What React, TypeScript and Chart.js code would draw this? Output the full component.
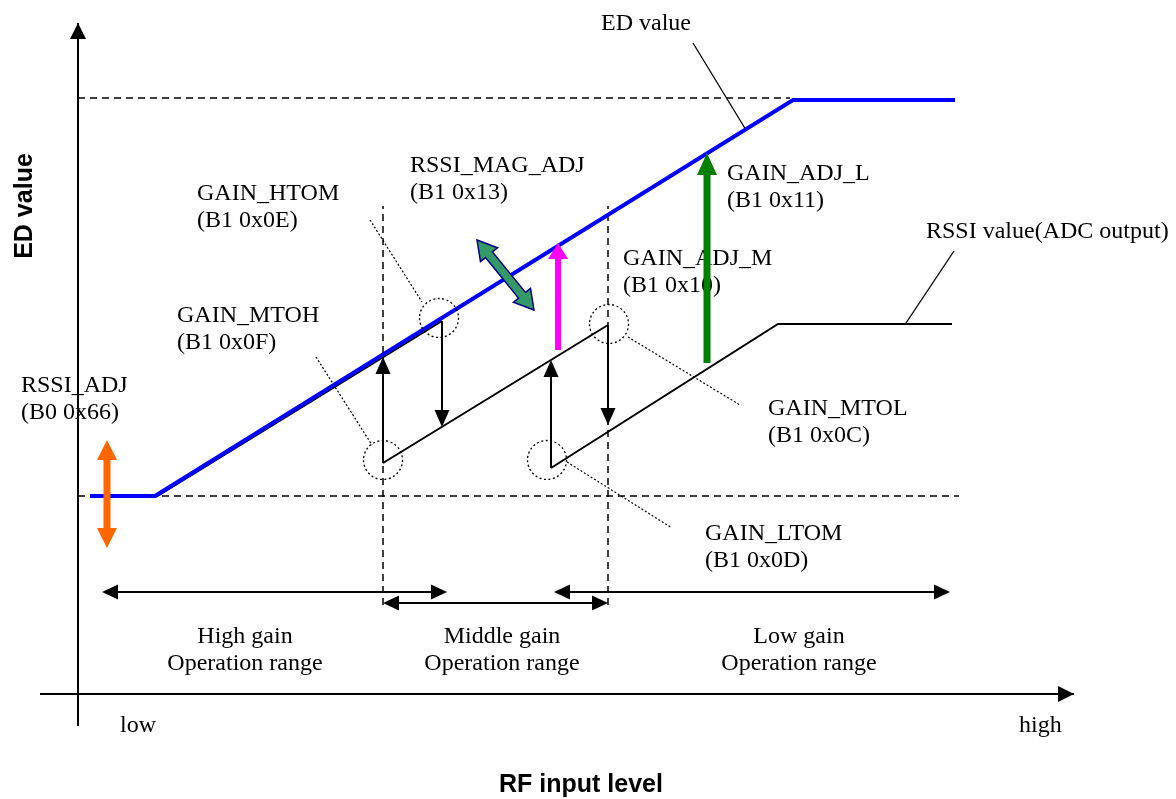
import React, { useEffect, useRef } from 'react';
import { Chart, registerables } from 'chart.js';
Chart.register(...registerables);

type P = [number, number];

// Diagram units: origin at the axes crossing, x = RF input level (right), y = value (up)
const X_MIN = -78, X_MAX = 1098, Y_MIN = -105, Y_MAX = 694;

// ED value curve (blue)
const edValue: P[] = [[12, 198], [77, 198], [715, 594], [877, 594]];
// RSSI value (ADC output) – three gain segments
const rssiHigh: P[] = [[78, 197], [364, 373]];
const rssiMiddle: P[] = [[305, 231], [530, 369]];
const rssiLow: P[] = [[473, 226], [700, 370], [874, 370]];

// reference dashed lines
const edMaxLine: P[] = [[0, 596], [712, 596]];
const rssiAdjLine: P[] = [[0, 198], [881, 198]];
const highMidBoundary: P[] = [[305, 89], [305, 488]];
const midLowBoundary: P[] = [[530, 89], [530, 488]];

// leader lines
const edLeader: P[] = [[615, 651], [668, 564]];
const rssiLeader: P[] = [[876, 443], [828, 371]];
const htomLeader: P[] = [[292, 474], [344, 392]];
const mtohLeader: P[] = [[238, 337], [294, 249]];
const mtolLeader: P[] = [[550, 357], [662, 289]];
const ltomLeader: P[] = [[489, 232], [594, 166]];

// axes
const yAxisLine: P[] = [[0, -32], [0, 671]];
const xAxisLine: P[] = [[-38, 0], [996, 0]];

// switching points (dotted circles)
const switchCircles: P[] = [[361, 376], [305, 234], [531, 370], [469, 234]];
// gain switching arrows: [from, to]
const switchArrows: P[][] = [
  [[305, 231], [305, 337]],
  [[364, 373], [364, 267]],
  [[473, 226], [473, 334]],
  [[530, 369], [530, 269]],
];
// operation range arrows (double headed)
const rangeArrows: P[][] = [
  [[24, 102], [369, 102]],
  [[305, 91], [530, 91]],
  [[476, 102], [872, 102]],
];
const rangeNames = ['High gain', 'Middle gain', 'Low gain'];
const rangeCenters = [167, 424, 721];

// adjustment arrows
const rssiAdjArrow: P[] = [[29, 146], [29, 254]];
const magAdjArrow: P[] = [[480, 344], [480, 451]];
const adjLArrow: P[] = [[629, 331], [629, 541]];
const magDiagArrow: P[] = [[399, 454], [456, 384]];

// annotation labels
const labelTexts: string[][] = [
  ['ED value'],
  ['GAIN_HTOM', '(B1 0x0E)'],
  ['RSSI_MAG_ADJ', '(B1 0x13)'],
  ['GAIN_ADJ_L', '(B1 0x11)'],
  ['GAIN_ADJ_M', '(B1 0x10)'],
  ['RSSI value(ADC output)'],
  ['GAIN_MTOH', '(B1 0x0F)'],
  ['RSSI_ADJ', '(B0 0x66)'],
  ['GAIN_MTOL', '(B1 0x0C)'],
  ['GAIN_LTOM', '(B1 0x0D)'],
];
const labelAnchors: P[] = [
  [523, 664], [119, 494], [332, 522], [649, 514], [545, 429],
  [848, 456], [99, 372], [-57, 302], [690, 279], [627, 154],
];
const axisEnds = ['low', 'high'];
const axisEndAnchors: P[] = [[42, -38], [941, -38]];
const xTitle = 'RF input level';
const yTitle = 'ED value';

const SERIF = '24px "Liberation Serif", "Times New Roman", serif';
const SANS_BOLD = 'bold 25px "Liberation Sans", Arial, sans-serif';
const LINE_H = 27;

function head(ctx: CanvasRenderingContext2D, tip: number[], from: number[], len: number, half: number) {
  const dx = tip[0] - from[0], dy = tip[1] - from[1];
  const d = Math.hypot(dx, dy) || 1;
  const ux = dx / d, uy = dy / d;
  const bx = tip[0] - ux * len, by = tip[1] - uy * len;
  ctx.beginPath();
  ctx.moveTo(tip[0], tip[1]);
  ctx.lineTo(bx - uy * half, by + ux * half);
  ctx.lineTo(bx + uy * half, by - ux * half);
  ctx.closePath();
  ctx.fill();
}

function lineArrow(ctx: CanvasRenderingContext2D, a: number[], b: number[], both: boolean, len: number, half: number, width: number) {
  const dx = b[0] - a[0], dy = b[1] - a[1];
  const d = Math.hypot(dx, dy) || 1;
  const ux = dx / d, uy = dy / d;
  const sa = both ? [a[0] + ux * (len - 2), a[1] + uy * (len - 2)] : a;
  const sb = [b[0] - ux * (len - 2), b[1] - uy * (len - 2)];
  ctx.save();
  ctx.strokeStyle = '#000';
  ctx.fillStyle = '#000';
  ctx.lineWidth = width;
  ctx.setLineDash([]);
  ctx.beginPath();
  ctx.moveTo(sa[0], sa[1]);
  ctx.lineTo(sb[0], sb[1]);
  ctx.stroke();
  head(ctx, b, a, len, half);
  if (both) head(ctx, a, b, len, half);
  ctx.restore();
}

function blockArrow(ctx: CanvasRenderingContext2D, a: number[], b: number[], both: boolean, w: number, len: number, half: number, fill: string, stroke?: string) {
  const dx = b[0] - a[0], dy = b[1] - a[1];
  const d = Math.hypot(dx, dy) || 1;
  const ux = dx / d, uy = dy / d;
  const nx = -uy, ny = ux;
  const pt = (base: number[], along: number, side: number) => [base[0] + ux * along + nx * side, base[1] + uy * along + ny * side];
  const pts: number[][] = [];
  if (both) {
    pts.push(a, pt(a, len, half), pt(a, len, w / 2), pt(b, -len, w / 2), pt(b, -len, half), b,
      pt(b, -len, -half), pt(b, -len, -w / 2), pt(a, len, -w / 2), pt(a, len, -half));
  } else {
    pts.push(pt(a, 0, w / 2), pt(b, -len, w / 2), pt(b, -len, half), b, pt(b, -len, -half), pt(b, -len, -w / 2), pt(a, 0, -w / 2));
  }
  ctx.save();
  ctx.setLineDash([]);
  ctx.beginPath();
  pts.forEach((p, i) => (i === 0 ? ctx.moveTo(p[0], p[1]) : ctx.lineTo(p[0], p[1])));
  ctx.closePath();
  ctx.fillStyle = fill;
  ctx.fill();
  if (stroke) {
    ctx.strokeStyle = stroke;
    ctx.lineWidth = 1.5;
    ctx.lineJoin = 'miter';
    ctx.stroke();
  }
  ctx.restore();
}

const diagramPlugin = {
  id: 'diagram',
  beforeDatasetsDraw(chart: any) {
    const ctx: CanvasRenderingContext2D = chart.ctx;
    const xs = chart.scales.x, ys = chart.scales.y;
    const px = (p: P) => [xs.getPixelForValue(p[0]), ys.getPixelForValue(p[1])];
    ctx.save();
    ctx.fillStyle = '#000';
    ctx.font = SERIF;
    ctx.textBaseline = 'alphabetic';
    ctx.textAlign = 'left';
    labelTexts.forEach((lines, i) => {
      const [x, y] = px(labelAnchors[i]);
      lines.forEach((t, j) => ctx.fillText(t, x, y + j * LINE_H));
    });
    axisEnds.forEach((t, i) => {
      const [x, y] = px(axisEndAnchors[i]);
      ctx.fillText(t, x, y);
    });
    ctx.textAlign = 'center';
    rangeNames.forEach((t, i) => {
      const x = xs.getPixelForValue(rangeCenters[i]);
      const y = ys.getPixelForValue(51);
      ctx.fillText(t, x, y);
      ctx.fillText('Operation range', x, y + LINE_H);
    });
    ctx.font = SANS_BOLD;
    const [tx, ty] = px([503, -98]);
    ctx.fillText(xTitle, tx, ty);
    const [vx, vy] = px([-46, 488]);
    ctx.translate(vx, vy);
    ctx.rotate(-Math.PI / 2);
    ctx.fillText(yTitle, 0, 0);
    ctx.restore();
  },
  afterDatasetsDraw(chart: any) {
    const ctx: CanvasRenderingContext2D = chart.ctx;
    const xs = chart.scales.x, ys = chart.scales.y;
    const px = (p: P) => [xs.getPixelForValue(p[0]), ys.getPixelForValue(p[1])];
    ctx.save();
    ctx.fillStyle = '#000';
    // axis arrowheads
    head(ctx, px(yAxisLine[1]), px(yAxisLine[0]), 16, 8);
    head(ctx, px(xAxisLine[1]), px(xAxisLine[0]), 16, 8);
    // dotted circles
    ctx.strokeStyle = '#000';
    ctx.lineWidth = 1.3;
    ctx.setLineDash([2, 2.5]);
    switchCircles.forEach((c) => {
      const [x, y] = px(c);
      ctx.beginPath();
      ctx.arc(x, y, 19.5, 0, Math.PI * 2);
      ctx.stroke();
    });
    ctx.setLineDash([]);
    ctx.restore();
    switchArrows.forEach(([a, b]) => lineArrow(ctx, px(a), px(b), false, 17, 7.5, 2));
    rangeArrows.forEach(([a, b]) => lineArrow(ctx, px(a), px(b), true, 16, 7.5, 2));
    blockArrow(ctx, px(rssiAdjArrow[0]), px(rssiAdjArrow[1]), true, 7, 20, 10, '#FF6600');
    blockArrow(ctx, px(magAdjArrow[0]), px(magAdjArrow[1]), false, 6, 16, 10, '#FF00FF');
    blockArrow(ctx, px(adjLArrow[0]), px(adjLArrow[1]), false, 7, 22, 10, '#008000');
    blockArrow(ctx, px(magDiagArrow[0]), px(magDiagArrow[1]), true, 9, 19, 11, '#339966', '#000080');
  },
};

function line(data: P[], color: string, width: number, dash: number[], order: number) {
  return {
    data: data.map(([x, y]) => ({ x, y })),
    showLine: true,
    borderColor: color,
    backgroundColor: color,
    borderWidth: width,
    borderDash: dash,
    pointRadius: 0,
    pointHoverRadius: 0,
    fill: false,
    tension: 0,
    order,
  };
}

export default function App() {
  const ref = useRef<HTMLCanvasElement | null>(null);
  useEffect(() => {
    if (!ref.current) return;
    const dashed = [7, 5];
    const dotted = [2, 2];
    const chart = new Chart(ref.current, {
      type: 'scatter',
      data: {
        datasets: [
          line(edValue, '#0000FF', 4, [], 0),
          line(rssiHigh, '#000', 2, [], 1),
          line(rssiMiddle, '#000', 2, [], 1),
          line(rssiLow, '#000', 2, [], 1),
          line(edMaxLine, '#000', 1.5, dashed, 3),
          line(rssiAdjLine, '#000', 1.5, dashed, 3),
          line(highMidBoundary, '#000', 1.5, dashed, 3),
          line(midLowBoundary, '#000', 1.5, dashed, 3),
          line(edLeader, '#000', 1.3, [], 2),
          line(rssiLeader, '#000', 1.3, [], 2),
          line(htomLeader, '#000', 1.2, dotted, 2),
          line(mtohLeader, '#000', 1.2, dotted, 2),
          line(mtolLeader, '#000', 1.2, dotted, 2),
          line(ltomLeader, '#000', 1.2, dotted, 2),
          line(yAxisLine, '#000', 2, [], 2),
          line(xAxisLine, '#000', 2, [], 2),
        ] as any,
      },
      options: {
        animation: false,
        responsive: false,
        events: [],
        layout: { padding: 0 },
        plugins: { legend: { display: false }, tooltip: { enabled: false } },
        scales: {
          x: { type: 'linear', min: X_MIN, max: X_MAX, display: false },
          y: { type: 'linear', min: Y_MIN, max: Y_MAX, display: false },
        },
      },
      plugins: [diagramPlugin as any],
    });
    return () => chart.destroy();
  }, []);
  return (
    <canvas
      ref={ref}
      width={1176}
      height={799}
      style={{ position: 'fixed', left: 0, top: 0, width: 1176, height: 799, background: '#fff' }}
    />
  );
}
